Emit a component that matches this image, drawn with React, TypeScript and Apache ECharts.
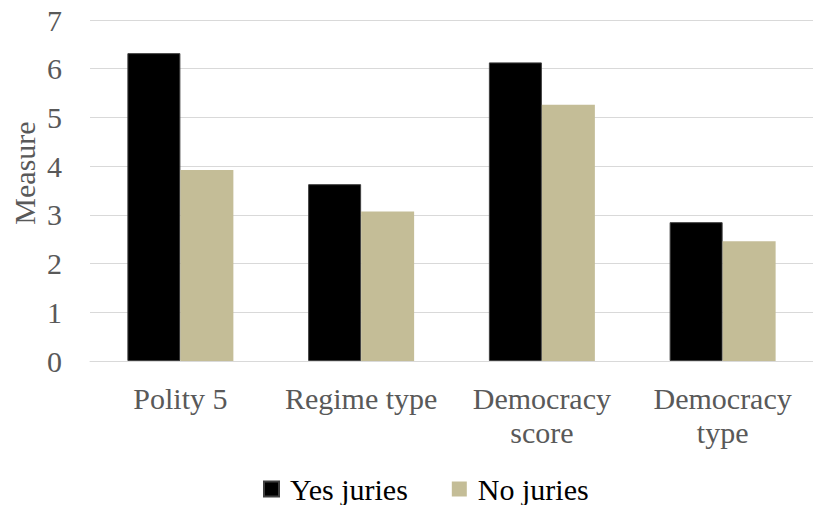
import React, { useEffect, useRef } from "react";
import * as echarts from "echarts";

const categories = ["Polity 5", "Regime type", "Democracy\nscore", "Democracy\ntype"];
const yesJuries = [6.32, 3.63, 6.13, 2.85];
const noJuries = [3.92, 3.07, 5.26, 2.46];
const seriesNames = ["Yes juries", "No juries"];
const yTicks = { min: 0, max: 7, interval: 1 };

const FONT = "Liberation Serif";
const GREY = "#595959";

export default function App() {
  const ref = useRef<HTMLDivElement>(null);

  useEffect(() => {
    document.body.style.margin = "0";
    if (!ref.current) return;
    const chart = echarts.init(ref.current, null, { renderer: "svg" });
    chart.setOption({
      animation: false,
      backgroundColor: "#ffffff",
      grid: { left: 90, right: -13, top: 20, bottom: 144, containLabel: false },
      legend: {
        data: seriesNames,
        left: 263,
        top: 474,
        padding: 0,
        itemWidth: 15,
        itemHeight: 15,
        itemGap: 44,
        icon: "rect",
        textStyle: {
          fontFamily: FONT,
          fontSize: 30,
          color: "#000000",
          padding: [0, 0, 0, 6],
        },
      },
      graphic: [
        {
          type: "text",
          x: 24,
          y: 173,
          rotation: Math.PI / 2,
          style: {
            text: "Measure",
            fontFamily: FONT,
            fontSize: 30,
            fill: GREY,
            align: "center",
            verticalAlign: "middle",
          },
        },
      ],
      xAxis: {
        type: "category",
        data: categories,
        axisLine: { show: true, lineStyle: { color: "#D9D9D9", width: 1 } },
        axisTick: { show: false },
        axisLabel: {
          fontFamily: FONT,
          fontSize: 30,
          color: GREY,
          lineHeight: 34,
          margin: 20,
          interval: 0,
        },
      },
      yAxis: {
        type: "value",
        min: yTicks.min,
        max: yTicks.max,
        interval: yTicks.interval,
        axisLine: { show: false },
        axisTick: { show: false },
        splitLine: { lineStyle: { color: "#D9D9D9", width: 1 } },
        axisLabel: { fontFamily: FONT, fontSize: 30, color: GREY, margin: 28 },
      },
      series: [
        {
          name: seriesNames[0],
          type: "bar",
          data: yesJuries,
          barWidth: 53,
          barGap: "0%",
          itemStyle: { color: "#000000", borderColor: "#3f3f3f", borderWidth: 1 },
        },
        {
          name: seriesNames[1],
          type: "bar",
          data: noJuries,
          barWidth: 53,
          barGap: "0%",
          itemStyle: { color: "#C4BD97" },
        },
      ],
    });
    return () => chart.dispose();
  }, []);

  return <div ref={ref} style={{ width: 813, height: 505 }} />;
}
